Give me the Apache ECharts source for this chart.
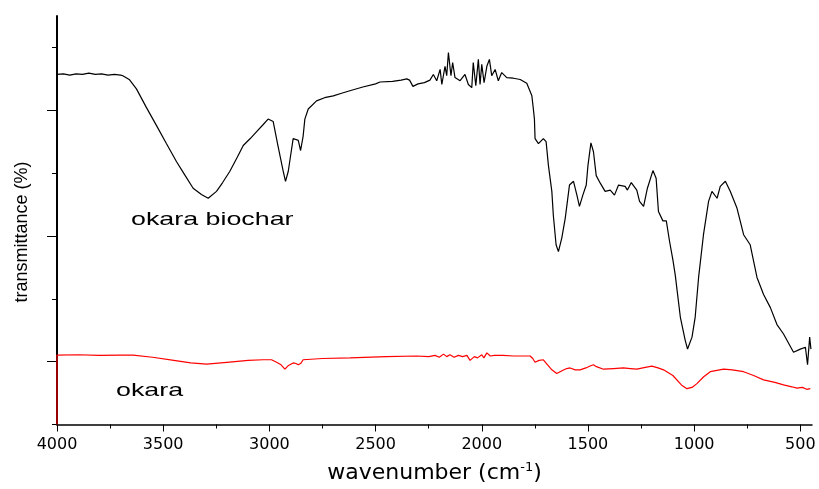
<!DOCTYPE html>
<html><head><meta charset="utf-8">
<script src="https://cdn.jsdelivr.net/npm/echarts@6/dist/echarts.min.js"></script>
<style>html,body{margin:0;padding:0;background:#fff}#c{width:819px;height:489px}</style>
</head><body><div id="c"></div><script>
// ---- data ----
const biocharWavenumber = [4000,3970,3940,3910,3880,3850,3820,3790,3760,3730,3700,3690,3660,3626,3580,3532,3485,3437,3400,3359,3320,3288,3249,3220,3186,3150,3123,3090,3060,3030,3006,2982,2960,2935,2924,2911,2900,2888,2864,2853,2841,2833,2817,2778,2740,2699,2660,2621,2560,2500,2479,2420,2380,2353,2340,2324,2300,2270,2244,2228,2212,2196,2188,2173,2165,2157,2149,2145,2137,2126,2102,2079,2063,2047,2040,2028,2016,2008,2000,1989,1976,1964,1953,1937,1922,1906,1882,1851,1819,1788,1780,1764,1757,1752,1749,1733,1710,1697,1686,1670,1663,1650,1639,1623,1607,1599,1587,1568,1552,1540,1524,1508,1500,1486,1474,1461,1442,1419,1395,1375,1356,1325,1314,1296,1270,1257,1238,1220,1194,1179,1168,1147,1131,1116,1100,1089,1065,1042,1031,1010,995,979,956,932,916,892,877,853,830,798,767,736,704,673,641,610,579,532,500,476,466,456,450];
const biocharValues = [5.57,5.58,5.56,5.58,5.57,5.59,5.57,5.58,5.56,5.57,5.56,5.55,5.49,5.34,5.05,4.76,4.47,4.18,3.98,3.76,3.66,3.60,3.71,3.85,4.03,4.26,4.44,4.55,4.66,4.77,4.86,4.82,4.44,4.03,3.87,4.03,4.28,4.55,4.52,4.36,4.59,4.86,5.02,5.15,5.20,5.23,5.27,5.31,5.37,5.42,5.45,5.46,5.48,5.50,5.48,5.38,5.42,5.44,5.48,5.57,5.47,5.65,5.41,5.70,5.55,5.92,5.92,5.55,5.76,5.52,5.47,5.57,5.41,5.36,5.76,5.39,5.81,5.41,5.73,5.44,5.70,5.81,5.55,5.65,5.47,5.60,5.52,5.51,5.49,5.43,5.42,5.23,5.02,4.86,4.55,4.47,4.55,4.50,4.12,3.71,3.33,2.86,2.75,2.97,3.28,3.49,3.81,3.87,3.65,3.47,3.65,3.81,4.12,4.48,4.34,3.96,3.84,3.71,3.73,3.65,3.81,3.79,3.73,3.85,3.73,3.55,3.47,3.76,4.04,3.92,3.39,3.24,3.24,2.92,2.62,2.38,1.71,1.34,1.20,1.39,1.71,2.34,3.02,3.55,3.71,3.60,3.79,3.87,3.71,3.44,3.02,2.86,2.34,2.07,1.86,1.59,1.44,1.15,1.20,1.23,0.95,1.39,1.20];

const okaraWavenumber = [4000,4000,3900,3800,3700,3642,3550,3450,3370,3296,3200,3100,3029,2990,2966,2945,2927,2910,2888,2875,2864,2853,2841,2750,2621,2450,2306,2250,2220,2200,2180,2165,2150,2130,2110,2090,2070,2055,2047,2035,2020,2000,1990,1976,1960,1940,1900,1850,1772,1760,1749,1730,1710,1690,1670,1647,1620,1600,1584,1560,1537,1510,1490,1474,1460,1427,1380,1333,1300,1270,1230,1199,1170,1144,1100,1060,1034,1010,987,955,924,861,820,767,720,673,620,579,540,516,490,470,453];
const okaraValues = [0,1.105,1.11,1.10,1.105,1.105,1.07,1.02,0.98,0.96,0.99,1.02,1.03,1.03,0.99,0.95,0.88,0.94,0.98,0.97,0.95,0.97,1.03,1.05,1.06,1.08,1.09,1.08,1.10,1.07,1.12,1.08,1.11,1.07,1.10,1.08,1.10,1.02,0.99,1.08,1.06,1.11,1.06,1.14,1.09,1.10,1.10,1.09,1.09,1.05,0.99,1.02,1.03,0.95,0.87,0.81,0.86,0.89,0.90,0.87,0.87,0.90,0.93,0.95,0.92,0.88,0.89,0.90,0.89,0.88,0.91,0.93,0.90,0.87,0.78,0.63,0.57,0.59,0.65,0.76,0.84,0.88,0.87,0.84,0.78,0.71,0.67,0.63,0.60,0.58,0.59,0.56,0.57];

const xMajorTicks = [4000,3500,3000,2500,2000,1500,1000,500];
const xMinorTicks = [3750,3250,2750,2250,1750,1250,750];
const yShortTicks = [0,2,4,6];
const yLongTicks = [1,3,5];

const seriesLabels = ['okara biochar','okara'];
const xName = 'wavenumber (cm{sup|-1})';
const yName = 'transmittance (%)';

// ---- chart ----
const zip = (xs, ys) => xs.map((x, i) => [x, ys[i]]);
const chart = echarts.init(document.getElementById('c'));
const X_MIN = 445, X_MAX = 4000, Y_MIN = 0, Y_MAX = 6.5;
const black = '#000';

chart.setOption({
  animation: false,
  backgroundColor: '#fff',
  grid: { left: 57, right: 7, top: 16, bottom: 61, containLabel: false },
  xAxis: [
    {
      type: 'value', min: X_MIN, max: X_MAX, inverse: true, position: 'bottom',
      axisLine: { show: true, lineStyle: { color: black, width: 1.5 } },
      axisTick: { show: true, customValues: xMajorTicks, length: 7, lineStyle: { color: black, width: 1 } },
      axisLabel: { show: true, customValues: xMajorTicks, margin: 12, color: black, fontFamily: 'DejaVu Sans', fontSize: 16,
        formatter: (v) => String(v) },
      splitLine: { show: false },
      name: xName, nameLocation: 'middle', nameGap: 37,
      nameTextStyle: { color: black, fontFamily: 'DejaVu Sans', fontSize: 22,
        rich: { sup: { fontFamily: 'DejaVu Sans', fontSize: 13, color: black, verticalAlign: 'top', padding: [0, 0, 10, 0] } } }
    },
    {
      type: 'value', min: X_MIN, max: X_MAX, inverse: true, position: 'bottom',
      axisLine: { show: false },
      axisTick: { show: true, customValues: xMinorTicks, length: 4, lineStyle: { color: black, width: 1 } },
      axisLabel: { show: false },
      splitLine: { show: false }
    }
  ],
  yAxis: [
    {
      type: 'value', min: Y_MIN, max: Y_MAX, position: 'left',
      axisLine: { show: true, lineStyle: { color: black, width: 2 } },
      axisTick: { show: true, customValues: yShortTicks, length: 5, lineStyle: { color: black, width: 1 } },
      axisLabel: { show: false },
      splitLine: { show: false }
    },
    {
      type: 'value', min: Y_MIN, max: Y_MAX, position: 'left',
      axisLine: { show: false },
      axisTick: { show: true, customValues: yLongTicks, length: 10, lineStyle: { color: black, width: 1 } },
      axisLabel: { show: false },
      splitLine: { show: false }
    }
  ],
  series: [
    { name: seriesLabels[0], type: 'line', data: zip(biocharWavenumber, biocharValues),
      showSymbol: false, symbol: 'none', lineStyle: { color: '#000', width: 1.2 }, itemStyle: { color: '#000' } },
    { name: seriesLabels[1], type: 'line', data: zip(okaraWavenumber, okaraValues),
      showSymbol: false, symbol: 'none', lineStyle: { color: '#ff0000', width: 1.2 }, itemStyle: { color: '#ff0000' } }
  ],
  graphic: [
    { type: 'text', x: 131, y: 220, scaleX: 1.45,
      style: { text: seriesLabels[0], font: '18.5px "Liberation Sans"', fill: black, verticalAlign: 'middle' } },
    { type: 'text', x: 116, y: 391, scaleX: 1.45,
      style: { text: seriesLabels[1], font: '18.5px "Liberation Sans"', fill: black, verticalAlign: 'middle' } },
    { type: 'text', x: 22, y: 232, rotation: Math.PI / 2,
      style: { text: yName, font: '18px "Liberation Sans"', fill: black, align: 'center', verticalAlign: 'middle' } }
  ]
});
</script></body></html>
